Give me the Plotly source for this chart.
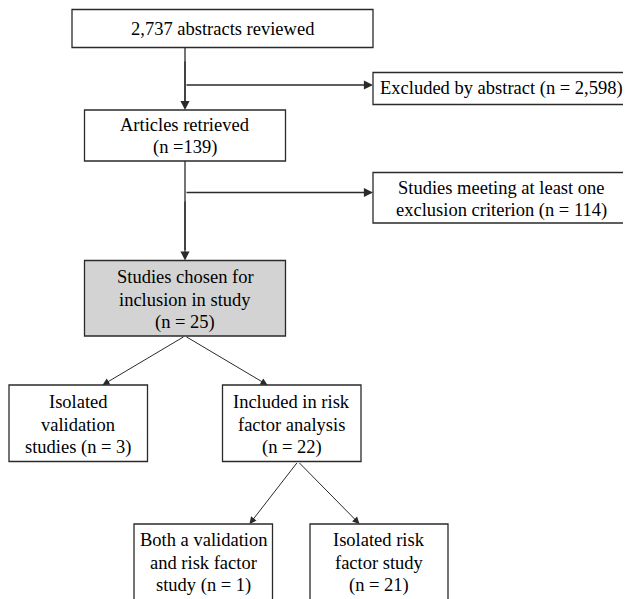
import plotly.graph_objects as go

# ---- data ----
stage_labels = [
    "2,737 abstracts reviewed",
    "Excluded by abstract (n = 2,598)",
    "Articles retrieved<br>(n =139)",
    "Studies meeting at least one<br>exclusion criterion (n = 114)",
    "Studies chosen for<br>inclusion in study<br>(n = 25)",
    "Isolated<br>validation<br>studies (n = 3)",
    "Included in risk<br>factor analysis<br>(n = 22)",
    "Both a validation<br>and risk factor<br>study (n = 1)",
    "Isolated risk<br>factor study<br>(n = 21)",
]
stage_counts = [2737, 2598, 139, 114, 25, 3, 22, 1, 21]
highlighted = [False, False, False, False, True, False, False, False, False]

# ---- layout geometry (pixel space of the reference) ----
boxes = [  # x0, x1, y0, y1
    (72, 373, 9.5, 47.5),
    (373, 629, 72.5, 104.5),
    (84.5, 285.5, 110, 161),
    (373, 629, 172.5, 223),
    (84.5, 285.5, 260.5, 336),
    (9, 147.5, 385, 461.5),
    (222.5, 361, 385, 461.5),
    (134, 272.5, 524, 610),
    (310, 448, 524, 610),
]
text_y = [28.5, 88.5, 136, 199.5, 299.5, 425, 425, 562.5, 562.5]
LINE_GAP = 22.7
OFFSET = 8  # page body margin
W, H = 631, 599

LINE = "#2a2a2a"
fig = go.Figure()

for (x0, x1, y0, y1), hl in zip(boxes, highlighted):
    fig.add_shape(type="rect", x0=x0, x1=x1, y0=y0, y1=y1,
                  line=dict(color=LINE, width=1.3),
                  fillcolor="#d3d3d3" if hl else "white", layer="below")

for (x0, x1, y0, y1), lab, ty in zip(boxes, stage_labels, text_y):
    lines = lab.split("<br>")
    n = len(lines)
    for i, ln in enumerate(lines):
        fig.add_annotation(x=(x0 + x1) / 2, y=ty + (i - (n - 1) / 2) * LINE_GAP,
                           text=ln, showarrow=False,
                           font=dict(family="Liberation Serif", size=18.5, color="black"),
                           xanchor="center", yanchor="middle")

# connectors
main_x = 185
fig.add_shape(type="line", x0=main_x, x1=main_x, y0=47.5, y1=105,
              line=dict(color=LINE, width=1.3))
fig.add_shape(type="line", x0=main_x, x1=main_x, y0=161, y1=250,
              line=dict(color=LINE, width=1.3))

def arrow(x0, y0, x1, y1, w=1.3):
    fig.add_annotation(x=x1, y=y1, ax=x0, ay=y0, xref="x", yref="y",
                       axref="x", ayref="y", showarrow=True, text="",
                       arrowhead=2, arrowsize=1.4, arrowwidth=w,
                       arrowcolor=LINE, standoff=0)

arrow(main_x, 60, main_x, 110)
arrow(main_x, 85, 373, 85)
arrow(main_x, 200, main_x, 260.5)
arrow(main_x, 192.5, 373, 192.5)
arrow(185, 336, 102.5, 385, 1.0)
arrow(185, 336, 267.5, 385, 1.0)
arrow(298, 461.5, 249.5, 524, 1.0)
arrow(298, 461.5, 359.5, 524, 1.0)

fig.update_xaxes(range=[OFFSET, W], visible=False, fixedrange=True)
fig.update_yaxes(range=[H, OFFSET], visible=False, fixedrange=True)
fig.update_layout(width=W - OFFSET, height=H - OFFSET,
                  margin=dict(l=0, r=0, t=0, b=0),
                  plot_bgcolor="white", paper_bgcolor="white", showlegend=False)

fig.write_html("out.html", config={"displayModeBar": False})
